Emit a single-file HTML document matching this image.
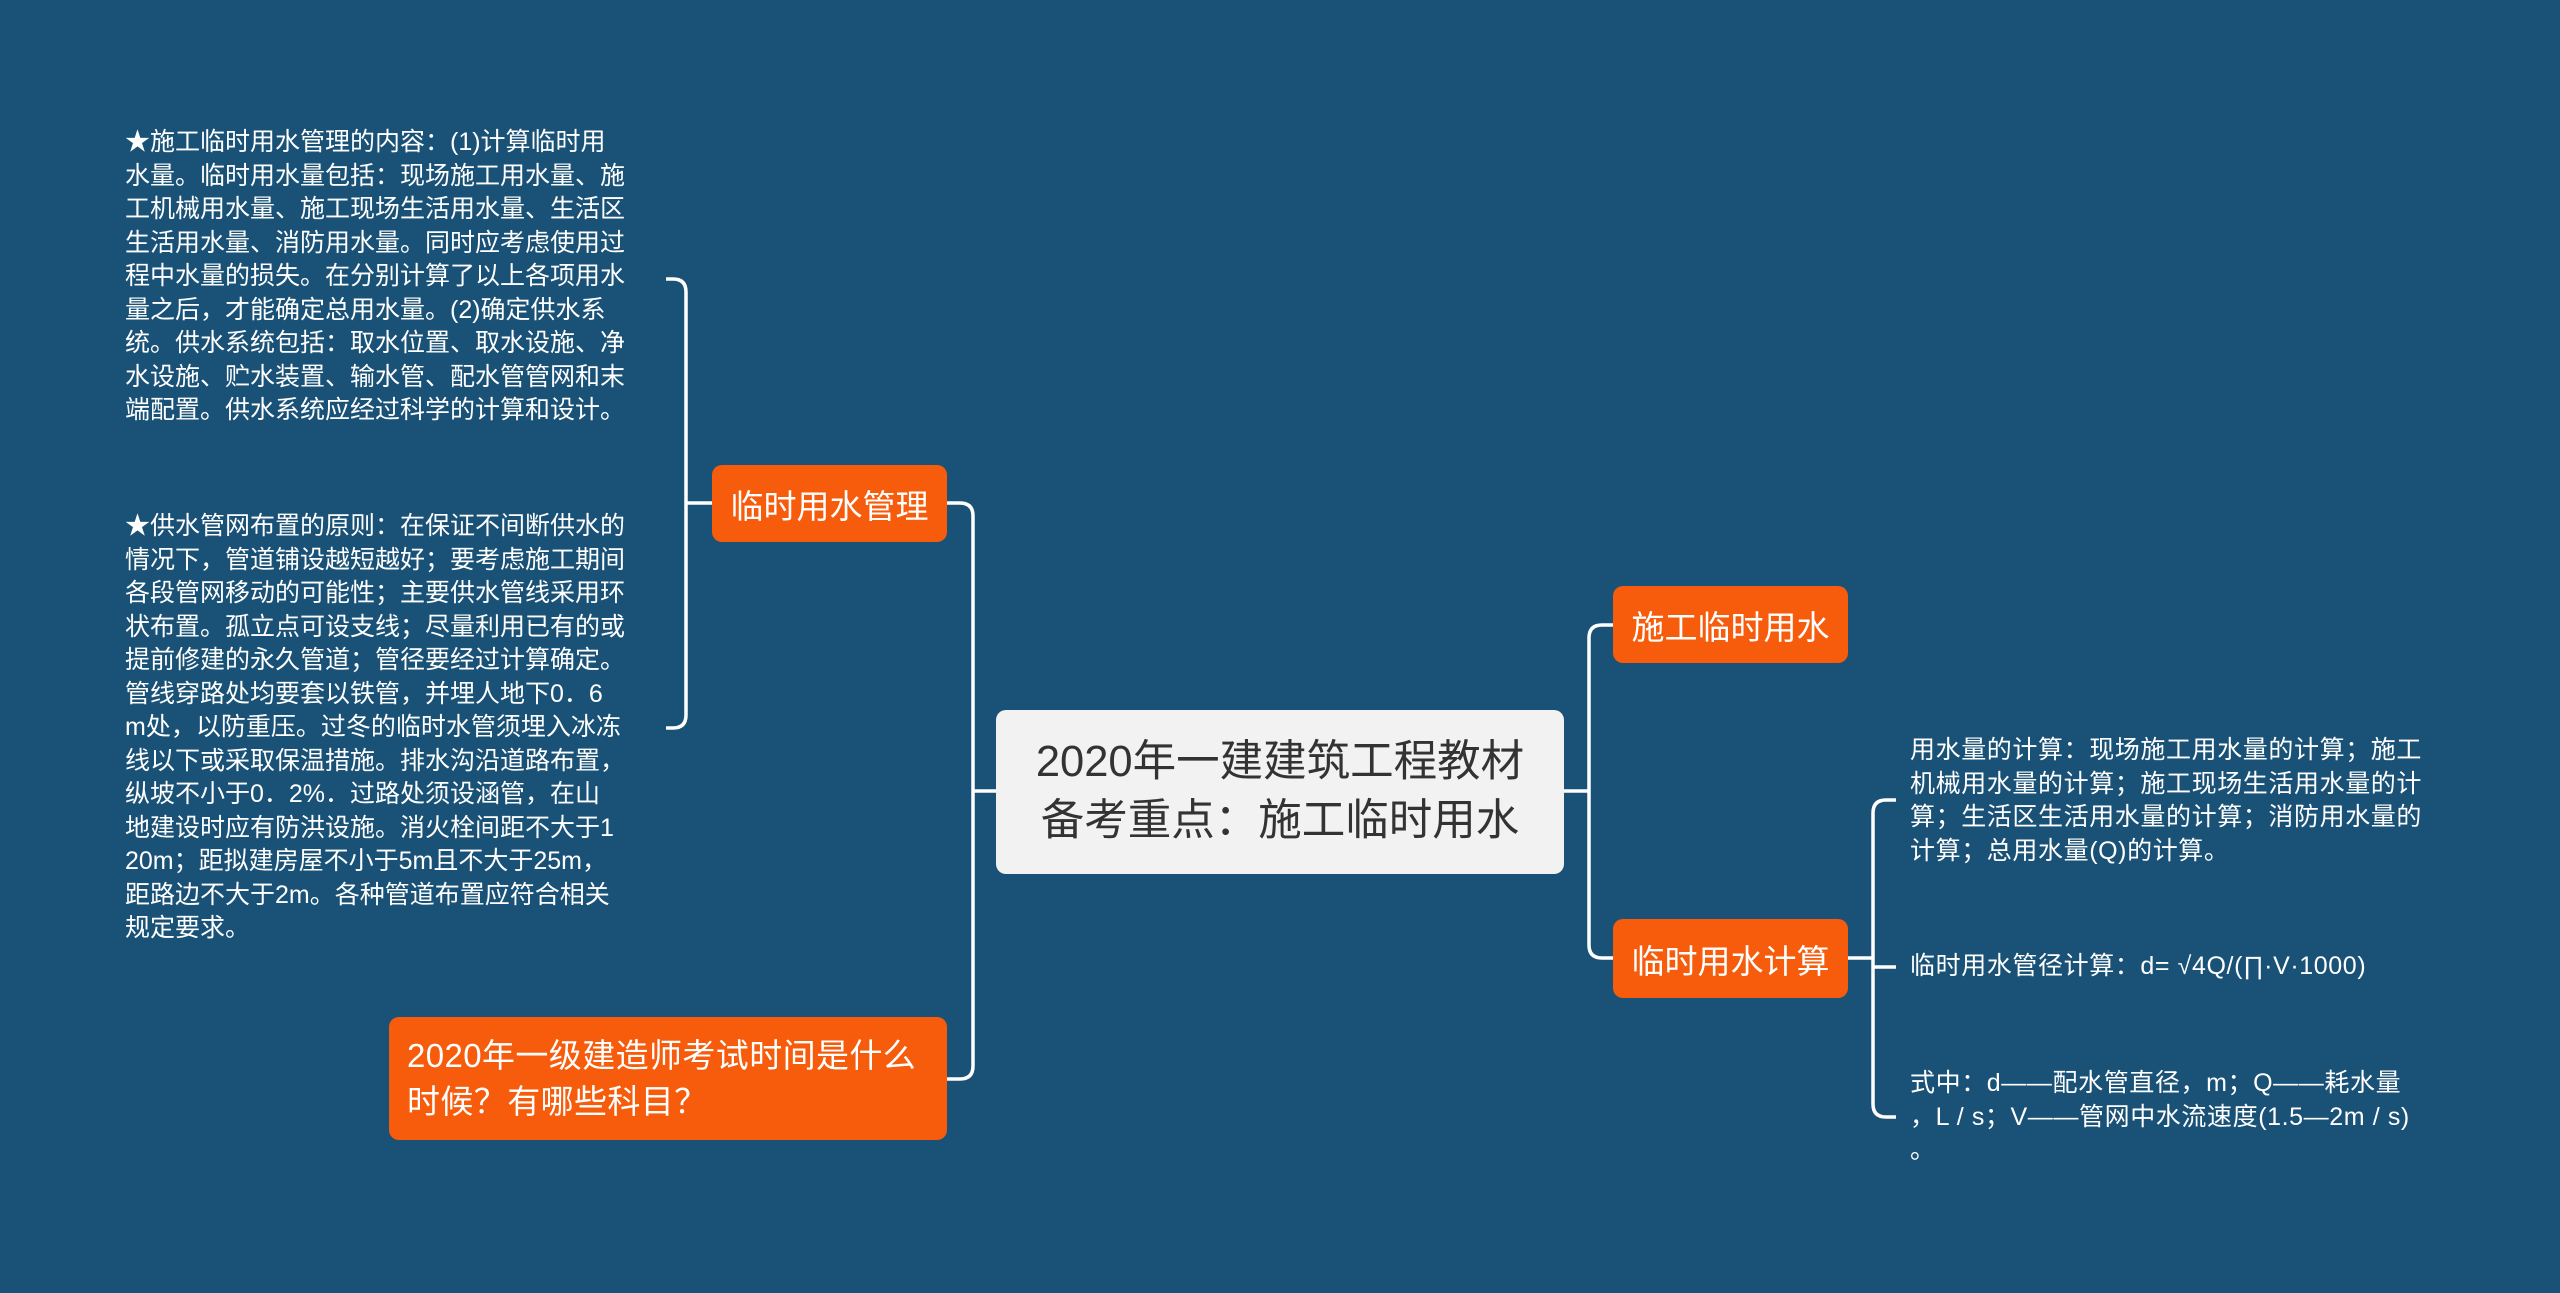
<!DOCTYPE html>
<html><head><meta charset="utf-8"><style>
html,body{margin:0;padding:0;}
body{width:2560px;height:1293px;background:#1a5277;position:relative;overflow:hidden;font-family:"Liberation Sans","Noto Sans CJK SC",sans-serif;}
.box{position:absolute;border-radius:10px;box-sizing:border-box;display:flex;align-items:center;}
.o{background:#f65c0b;color:#fff;font-size:33px;justify-content:center;}
.t{position:absolute;color:#fff;font-size:25px;line-height:33.5px;white-space:nowrap;}
.r{letter-spacing:0.6px;}
svg{position:absolute;left:0;top:0;}
</style></head><body>
<svg width="2560" height="1293" fill="none" stroke="#fff" stroke-width="3.5">
<path d="M996 791 H973"/>
<path d="M947 503 H960 Q973 503 973 516 V1066 Q973 1079 960 1079 H947"/>
<path d="M1564 791 H1589"/>
<path d="M1613 625 H1602 Q1589 625 1589 638 V945 Q1589 958 1602 958 H1613"/>
<path d="M712 503 H686"/>
<path d="M666 279 H673 Q686 279 686 292 V715 Q686 728 673 728 H666"/>
<path d="M1848 958 H1873"/>
<path d="M1896 800 H1886 Q1873 800 1873 813 V1104 Q1873 1117 1886 1117 H1896"/>
<path d="M1873 967 H1896"/>
</svg>
<div class="box" style="left:996px;top:710px;width:568px;height:164px;background:#f2f2f2;color:#333;font-size:43.5px;line-height:59px;justify-content:center;text-align:center;">2020年一建建筑工程教材<br>备考重点：施工临时用水</div>
<div class="box o" style="left:1613px;top:586px;width:235px;height:77px;">施工临时用水</div>
<div class="box o" style="left:1613px;top:919px;width:235px;height:79px;">临时用水计算</div>
<div class="box o" style="left:712px;top:465px;width:235px;height:77px;">临时用水管理</div>
<div class="box o" style="left:389px;top:1017px;width:558px;height:123px;justify-content:flex-start;padding-left:18px;line-height:46px;letter-spacing:0.4px;">2020年一级建造师考试时间是什么<br>时候？有哪些科目？</div>
<div class="t" style="left:125px;top:126px;">★施工临时用水管理的内容：(1)计算临时用<br>水量。临时用水量包括：现场施工用水量、施<br>工机械用水量、施工现场生活用水量、生活区<br>生活用水量、消防用水量。同时应考虑使用过<br>程中水量的损失。在分别计算了以上各项用水<br>量之后，才能确定总用水量。(2)确定供水系<br>统。供水系统包括：取水位置、取水设施、净<br>水设施、贮水装置、输水管、配水管管网和末<br>端配置。供水系统应经过科学的计算和设计。</div>
<div class="t" style="left:125px;top:510px;">★供水管网布置的原则：在保证不间断供水的<br>情况下，管道铺设越短越好；要考虑施工期间<br>各段管网移动的可能性；主要供水管线采用环<br>状布置。孤立点可设支线；尽量利用已有的或<br>提前修建的永久管道；管径要经过计算确定。<br>管线穿路处均要套以铁管，并埋人地下0．6<br>m处，以防重压。过冬的临时水管须埋入冰冻<br>线以下或采取保温措施。排水沟沿道路布置，<br>纵坡不小于0．2%．过路处须设涵管，在山<br>地建设时应有防洪设施。消火栓间距不大于1<br>20m；距拟建房屋不小于5m且不大于25m，<br>距路边不大于2m。各种管道布置应符合相关<br>规定要求。</div>
<div class="t r" style="left:1910px;top:734px;">用水量的计算：现场施工用水量的计算；施工<br>机械用水量的计算；施工现场生活用水量的计<br>算；生活区生活用水量的计算；消防用水量的<br>计算；总用水量(Q)的计算。</div>
<div class="t r" style="left:1910px;top:950px;">临时用水管径计算：d= √4Q/(∏·V·1000)</div>
<div class="t r" style="left:1910px;top:1067px;">式中：d——配水管直径，m；Q——耗水量<br>，L / s；V——管网中水流速度(1.5—2m / s)<br>。</div>
</body></html>
